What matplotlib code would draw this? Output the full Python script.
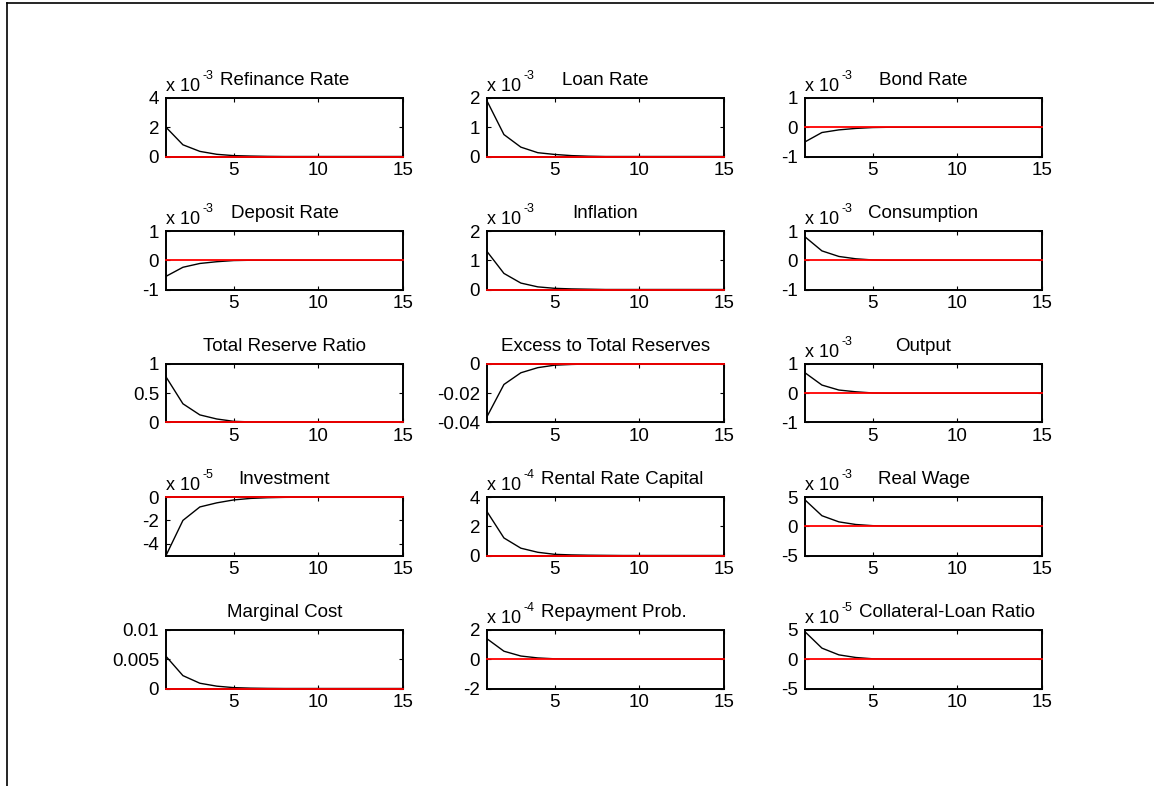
import matplotlib
matplotlib.use("Agg")
import matplotlib.pyplot as plt
from matplotlib.lines import Line2D
import numpy as np

plt.rcParams['font.family'] = ['Liberation Sans', 'DejaVu Sans']

periods = np.arange(1, 16)

titles = [
    "Refinance Rate", "Loan Rate", "Bond Rate",
    "Deposit Rate", "Inflation", "Consumption",
    "Total Reserve Ratio", "Excess to Total Reserves", "Output",
    "Investment", "Rental Rate Capital", "Real Wage",
    "Marginal Cost", "Repayment Prob.", "Collateral-Loan Ratio",
]

# impulse responses (in units of the axis multiplier)
refinance_rate = [2.0, 0.8, 0.35, 0.15, 0.06, 0.03, 0.01, 0, 0, 0, 0, 0, 0, 0, 0]
loan_rate = [1.9, 0.75, 0.32, 0.13, 0.07, 0.03, 0.01, 0, 0, 0, 0, 0, 0, 0, 0]
bond_rate = [-0.5, -0.18, -0.09, -0.04, -0.01, 0, 0, 0, 0, 0, 0, 0, 0, 0, 0]
deposit_rate = [-0.55, -0.24, -0.11, -0.05, -0.01, 0, 0, 0, 0, 0, 0, 0, 0, 0, 0]
inflation = [1.3, 0.55, 0.22, 0.09, 0.04, 0.02, 0.01, 0, 0, 0, 0, 0, 0, 0, 0]
consumption = [0.8, 0.32, 0.13, 0.05, 0.01, 0, 0, 0, 0, 0, 0, 0, 0, 0, 0]
total_reserve_ratio = [0.78, 0.32, 0.13, 0.06, 0.02, 0.01, 0, 0, 0, 0, 0, 0, 0, 0, 0]
excess_to_total = [-0.036, -0.014, -0.006, -0.0025, -0.0008, -0.0003, 0, 0, 0, 0, 0, 0, 0, 0, 0]
output = [0.7, 0.28, 0.11, 0.05, 0.01, 0, 0, 0, 0, 0, 0, 0, 0, 0, 0]
investment = [-5.0, -2.0, -0.85, -0.5, -0.25, -0.12, -0.06, -0.03, -0.02, -0.01, -0.01, 0, 0, 0, 0]
rental_rate_capital = [3.0, 1.2, 0.5, 0.22, 0.08, 0.04, 0.02, 0.01, 0, 0, 0, 0, 0, 0, 0]
real_wage = [4.5, 1.8, 0.75, 0.3, 0.1, 0.04, 0.01, 0, 0, 0, 0, 0, 0, 0, 0]
marginal_cost = [0.0055, 0.0022, 0.0009, 0.0004, 0.00015, 0.00006, 0.00002, 0, 0, 0, 0, 0, 0, 0, 0]
repayment_prob = [1.4, 0.55, 0.22, 0.09, 0.03, 0.01, 0, 0, 0, 0, 0, 0, 0, 0, 0]
collateral_loan = [4.7, 1.9, 0.75, 0.3, 0.08, 0.02, 0, 0, 0, 0, 0, 0, 0, 0, 0]

series = [
    refinance_rate, loan_rate, bond_rate,
    deposit_rate, inflation, consumption,
    total_reserve_ratio, excess_to_total, output,
    investment, rental_rate_capital, real_wage,
    marginal_cost, repayment_prob, collateral_loan,
]

exponents = ["-3", "-3", "-3", "-3", "-3", "-3", None, None, "-3", "-5", "-4", "-3", None, "-4", "-5"]

y_limits = [
    (0, 4), (0, 2), (-1, 1),
    (-1, 1), (0, 2), (-1, 1),
    (0, 1), (-0.04, 0), (-1, 1),
    (-5, 0), (0, 4), (-5, 5),
    (0, 0.01), (-2, 2), (-5, 5),
]
y_ticks = [
    [0, 2, 4], [0, 1, 2], [-1, 0, 1],
    [-1, 0, 1], [0, 1, 2], [-1, 0, 1],
    [0, 0.5, 1], [-0.04, -0.02, 0], [-1, 0, 1],
    [-4, -2, 0], [0, 2, 4], [-5, 0, 5],
    [0, 0.005, 0.01], [-2, 0, 2], [-5, 0, 5],
]
y_ticklabels = [
    ["0", "2", "4"], ["0", "1", "2"], ["-1", "0", "1"],
    ["-1", "0", "1"], ["0", "1", "2"], ["-1", "0", "1"],
    ["0", "0.5", "1"], ["-0.04", "-0.02", "0"], ["-1", "0", "1"],
    ["-4", "-2", "0"], ["0", "2", "4"], ["-5", "0", "5"],
    ["0", "0.005", "0.01"], ["-2", "0", "2"], ["-5", "0", "5"],
]
x_ticks = [5, 10, 15]

W, H = 1154, 786
fig = plt.figure(figsize=(W / 100, H / 100), dpi=100)

col_left = [166, 487, 805]
ax_w = 237
row_top = [98, 231, 364, 497, 630]
ax_h = 58.5

panels = []
for i in range(15):
    r, c = divmod(i, 3)
    left = col_left[c] / W
    bottom = 1 - (row_top[r] + ax_h) / H
    ax = fig.add_axes([left, bottom, ax_w / W, ax_h / H])
    ax.plot(periods, series[i], color="black", lw=1.0, zorder=3)
    ax.plot(periods, np.zeros_like(periods), color="red", lw=1.3,
            zorder=4, clip_on=False)
    ax.set_xlim(1, 15)
    ax.set_ylim(*y_limits[i])
    ax.set_xticks(x_ticks)
    ax.set_xticklabels([str(t) for t in x_ticks])
    ax.set_yticks(y_ticks[i])
    ax.set_yticklabels(y_ticklabels[i])
    ax.tick_params(direction="in", length=3, width=0.8, top=True, right=True,
                   labelsize=13.5, colors="black")
    ax.tick_params(axis="x", pad=4)
    ax.tick_params(axis="y", pad=5)
    for s in ax.spines.values():
        s.set_linewidth(1.4)
        s.set_color("black")
    title = ax.set_title(titles[i], fontsize=13.5, pad=9.5)
    exp_text = None
    if exponents[i] is not None:
        base = ax.text(0.0, 1 + 7 / ax_h, "x 10", transform=ax.transAxes,
                       fontsize=13, ha="left", va="baseline")
        exp_text = ax.annotate(exponents[i], xy=(1.0, 0.75), xycoords=base,
                               xytext=(1.5, 0), textcoords="offset points",
                               fontsize=9, ha="left", va="bottom")
    panels.append((ax, title, exp_text))

# keep each title clear of its axis multiplier
fig.canvas.draw()
renderer = fig.canvas.get_renderer()
gap_px = 7
for ax, title, exp_text in panels:
    if exp_text is None:
        continue
    eb = exp_text.get_window_extent(renderer)
    tb = title.get_window_extent(renderer)
    if tb.x0 < eb.x1 + gap_px:
        shift = (eb.x1 + gap_px - tb.x0) / ax.bbox.width
        title.set_x(0.5 + shift)

# outer frame
fig.add_artist(Line2D([7 / W, 7 / W], [0, 1 - 2.5 / H], color="black", lw=1.2,
                      transform=fig.transFigure))
fig.add_artist(Line2D([7 / W, 1], [1 - 2.5 / H, 1 - 2.5 / H], color="black", lw=1.2,
                      transform=fig.transFigure))

fig.savefig("out.png", dpi=100, facecolor="white")
